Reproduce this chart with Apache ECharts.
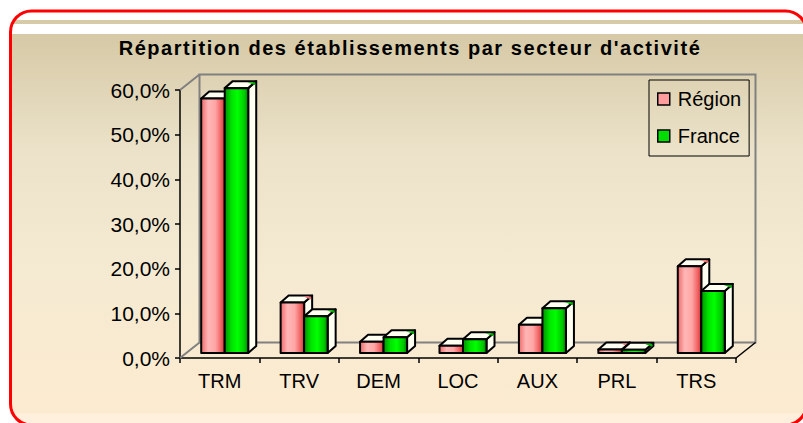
<!DOCTYPE html>
<html>
<head>
<meta charset="utf-8">
<script src="https://cdn.jsdelivr.net/npm/echarts@6/dist/echarts.min.js"></script>
<style>
html,body{margin:0;padding:0;background:#fff;}
#chart{width:803px;height:423px;}
#chart svg text[style*="bold"]{letter-spacing:1.55px;}
</style>
</head>
<body>
<div id="chart"></div>
<script>
var titleText = "Répartition des établissements par secteur d'activité";
var categories = ['TRM', 'TRV', 'DEM', 'LOC', 'AUX', 'PRL', 'TRS'];
var regionValues = [57.0, 11.3, 2.5, 1.6, 6.3, 0.8, 19.4];
var franceValues = [59.3, 8.2, 3.5, 3.1, 10.0, 0.7, 13.9];
var seriesNames = ['Région', 'France'];
var yTicks = { min: 0, max: 60, interval: 10 };

var FONT = '"Liberation Sans", Arial, sans-serif';
// oblique depth of the wall/floor, bar plane offset and bar depth
var DX = 19.5, DY = -15.5;
var OX = 5, OY = -5;
var BX = 8, BY = -7;
var BAR_RATIO = 0.296;

var regionGrad = new echarts.graphic.LinearGradient(0, 0, 1, 0, [
  { offset: 0, color: '#EE6A6A' },
  { offset: 0.3, color: '#FFB6B6' },
  { offset: 0.6, color: '#FFA6A6' },
  { offset: 0.85, color: '#F06262' },
  { offset: 1, color: '#D03434' }
]);
var franceGrad = new echarts.graphic.LinearGradient(0, 0, 1, 0, [
  { offset: 0, color: '#009000' },
  { offset: 0.3, color: '#00E400' },
  { offset: 0.55, color: '#00FF00' },
  { offset: 0.85, color: '#00C800' },
  { offset: 1, color: '#007A00' }
]);

function barRenderer(side, frontFill, accent) {
  return function (params, api) {
    var cat = api.value(0), v = api.value(1);
    var base = api.coord([cat, 0]);
    var top = api.coord([cat, v]);
    var bw = api.size([1, 0])[0] * BAR_RATIO;
    var x0 = base[0] + OX + (side === 0 ? -bw : 0);
    var x1 = x0 + bw;
    var yb = base[1] + OY, yt = top[1] + OY;
    var stroke = { stroke: '#000', lineWidth: 2, lineJoin: 'round' };
    return {
      type: 'group',
      children: [
        { type: 'polygon', shape: { points: [[x1, yt], [x1 + BX, yt + BY], [x1 + BX, yb + BY], [x1, yb]] },
          style: Object.assign({ fill: '#FFFFF2' }, stroke) },
        { type: 'polygon', shape: { points: [[x0, yt], [x1, yt], [x1 + BX, yt + BY], [x0 + BX, yt + BY]] },
          style: Object.assign({ fill: '#FFFFF2' }, stroke) },
        { type: 'polygon', shape: { points: [[x1 - 1, yt + BY + 1], [x1 + BX - 1, yt + BY + 1], [x1 + BX - 1, yt + BY + 4]] },
          style: { fill: accent } },
        { type: 'polygon', shape: { points: [[x0, yt], [x1, yt], [x1, yb], [x0, yb]] },
          style: Object.assign({ fill: frontFill }, stroke) }
      ]
    };
  };
}

function frameRenderer(params, api) {
  var c = params.coordSys;
  var x = c.x, y = c.y, w = c.width, h = c.height;
  var gray = { stroke: '#808080', lineWidth: 2, fill: null };
  return {
    type: 'group',
    children: [
      { type: 'polyline', shape: { points: [[x + DX, y + h + DY], [x + DX, y + DY], [x + w + DX, y + DY], [x + w + DX, y + h + DY], [x + DX, y + h + DY]] }, style: gray },
      { type: 'line', shape: { x1: x, y1: y, x2: x + DX, y2: y + DY }, style: gray },
      { type: 'line', shape: { x1: x, y1: y + h, x2: x + DX, y2: y + h + DY }, style: gray },
      { type: 'line', shape: { x1: x + w, y1: y + h, x2: x + w + DX, y2: y + h + DY }, style: { stroke: '#000', lineWidth: 1.5 } }
    ]
  };
}

function toPairs(vals) {
  return vals.map(function (v, i) { return [i, v]; });
}

var chart = echarts.init(document.getElementById('chart'), null, { renderer: 'svg' });

var bgTop = 11, bgH = 414;
function off(yy) { return (yy - bgTop) / bgH; }

var option = {
  animation: false,
  backgroundColor: '#ffffff',
  graphic: [
    {
      type: 'rect', z: -10, silent: true,
      shape: { x: 10.5, y: bgTop, width: 796, height: bgH, r: 21 },
      style: {
        fill: new echarts.graphic.LinearGradient(0, 0, 0, 1, [
          { offset: 0, color: '#FFFFFF' },
          { offset: off(20), color: '#FFFFFF' },
          { offset: off(20), color: '#D6CAA8' },
          { offset: off(24), color: '#D6CAA8' },
          { offset: off(24), color: '#FFFFFF' },
          { offset: off(34), color: '#FFFFFF' },
          { offset: off(34), color: '#D6C9A6' },
          { offset: off(150), color: '#EBE2C9' },
          { offset: off(260), color: '#F4EAD2' },
          { offset: off(413), color: '#FCEBD0' },
          { offset: off(414), color: '#FEF0DC' },
          { offset: 1, color: '#FEF0DC' }
        ]),
        stroke: '#FF0000', lineWidth: 3
      }
    },
    {
      type: 'text', z: 10, silent: true,
      style: {
        x: 410, y: 48, text: titleText,
        font: 'bold 20px ' + FONT,
        fill: '#000', align: 'center', verticalAlign: 'middle'
      }
    }
  ],
  grid: { left: 180, top: 90, width: 556, height: 268, containLabel: false },
  legend: {
    orient: 'vertical',
    left: 649, top: 80,
    padding: [9, 8, 10, 8],
    itemGap: 17,
    itemWidth: 12, itemHeight: 12,
    borderColor: '#000', borderWidth: 1,
    backgroundColor: 'transparent',
    icon: 'rect',
    selectedMode: false,
    textStyle: { fontSize: 20, lineHeight: 20, color: '#000', fontFamily: FONT, padding: [0, 0, 0, 3] },
    data: [
      { name: seriesNames[0], itemStyle: { color: '#FF9C9C', borderColor: '#000', borderWidth: 1.5 } },
      { name: seriesNames[1], itemStyle: { color: '#00DD00', borderColor: '#000', borderWidth: 1.5 } }
    ]
  },
  xAxis: {
    type: 'category',
    data: categories,
    boundaryGap: true,
    axisLine: { show: true, lineStyle: { color: '#000', width: 1.5 } },
    axisTick: { show: true, length: 5, lineStyle: { color: '#000', width: 1.5 } },
    axisLabel: { fontSize: 20, color: '#000', fontFamily: FONT, margin: 13 },
    splitLine: { show: false }
  },
  yAxis: {
    type: 'value',
    min: yTicks.min, max: yTicks.max, interval: yTicks.interval,
    axisLine: { show: true, lineStyle: { color: '#000', width: 1.5 } },
    axisTick: { show: true, length: 5, lineStyle: { color: '#000', width: 1.5 } },
    axisLabel: {
      fontSize: 21, color: '#000', fontFamily: FONT, margin: 10,
      formatter: function (v) { return v.toFixed(1).replace('.', ',') + '%'; }
    },
    splitLine: { show: false }
  },
  series: [
    {
      name: '__frame', type: 'custom', silent: true, z: 1,
      renderItem: frameRenderer, data: [[0, 0]]
    },
    {
      name: seriesNames[0], type: 'custom', z: 2,
      itemStyle: { color: '#FF9C9C' },
      renderItem: barRenderer(0, regionGrad, '#F07070'),
      encode: { x: 0, y: 1 },
      data: toPairs(regionValues)
    },
    {
      name: seriesNames[1], type: 'custom', z: 2,
      itemStyle: { color: '#00DD00' },
      renderItem: barRenderer(1, franceGrad, '#00B000'),
      encode: { x: 0, y: 1 },
      data: toPairs(franceValues)
    }
  ]
};
chart.setOption(option);
</script>
</body>
</html>
